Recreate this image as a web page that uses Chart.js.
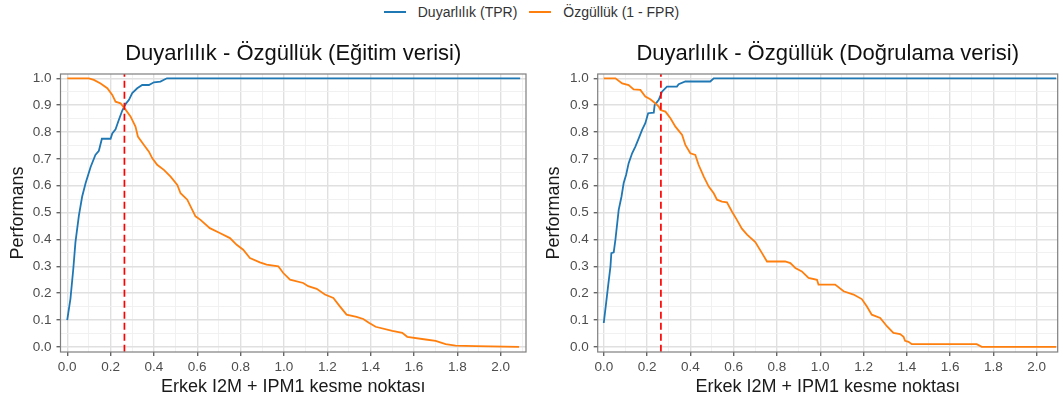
<!DOCTYPE html>
<html>
<head>
<meta charset="utf-8">
<script src="https://cdn.jsdelivr.net/npm/chart.js@4.4.1/dist/chart.umd.min.js"></script>
<style>
body{margin:0;background:#fff;width:1063px;height:405px;overflow:hidden;position:relative;font-family:"Liberation Sans",Arial,sans-serif}
#c1{position:absolute;left:0;top:0}
#c2{position:absolute;left:531px;top:0}
#legend{position:absolute;top:3px;left:0;width:1063px;height:18px;display:flex;justify-content:center;align-items:center;font-size:14px;color:#333}
#legend .ln{display:inline-block;width:22px;height:2px;margin-right:12px}
#legend .it{display:flex;align-items:center;margin:0 6px}
</style>
</head>
<body>
<div id="legend">
  <span class="it"><span class="ln" style="background:#1f77b4"></span>Duyarlılık (TPR)</span>
  <span class="it"><span class="ln" style="background:#ff7f0e"></span>Özgüllük (1 - FPR)</span>
</div>
<canvas id="c1" width="531" height="405"></canvas>
<canvas id="c2" width="532" height="405"></canvas>
<script>
// eğitim verisi
var egitimTprX = [0.0,0.015,0.028,0.038,0.054,0.069,0.085,0.108,0.13,0.146,0.16,0.2,0.208,0.223,0.238,0.254,0.27,0.285,0.3,0.323,0.346,0.377,0.4,0.43,0.46,2.09];
var egitimTprY = [0.10,0.18,0.29,0.39,0.49,0.56,0.61,0.67,0.715,0.73,0.775,0.775,0.795,0.81,0.845,0.88,0.905,0.92,0.945,0.963,0.975,0.975,0.985,0.988,1.0,1.0];
var egitimOzgX = [0.0,0.1,0.123,0.154,0.185,0.208,0.223,0.246,0.265,0.292,0.315,0.326,0.354,0.377,0.392,0.415,0.446,0.477,0.508,0.523,0.554,0.577,0.592,0.615,0.658,0.704,0.751,0.782,0.812,0.843,0.889,0.92,0.974,0.997,1.028,1.089,1.112,1.151,1.189,1.228,1.258,1.289,1.335,1.366,1.392,1.423,1.5,1.546,1.569,1.654,1.7,1.746,1.792,1.885,2.085];
var egitimOzgY = [1.0,1.0,0.994,0.981,0.963,0.938,0.913,0.907,0.888,0.858,0.82,0.783,0.752,0.727,0.703,0.678,0.659,0.634,0.603,0.572,0.548,0.51,0.486,0.473,0.442,0.424,0.405,0.38,0.362,0.331,0.315,0.306,0.3,0.275,0.25,0.238,0.226,0.216,0.195,0.182,0.151,0.12,0.112,0.104,0.09,0.075,0.06,0.0525,0.0375,0.0275,0.0225,0.01,0.005,0.0025,0.0];

// doğrulama verisi
var dogTprX = [0.0,0.011,0.02,0.031,0.035,0.046,0.054,0.069,0.082,0.092,0.103,0.115,0.131,0.146,0.162,0.177,0.192,0.205,0.231,0.235,0.254,0.269,0.292,0.338,0.346,0.377,0.492,0.508,2.09];
var dogTprY = [0.089,0.164,0.226,0.30,0.349,0.352,0.40,0.51,0.56,0.61,0.64,0.684,0.721,0.746,0.777,0.808,0.833,0.87,0.872,0.90,0.92,0.95,0.969,0.969,0.978,0.988,0.988,1.0,1.0];
var dogOzgX = [0.0,0.054,0.085,0.115,0.138,0.169,0.192,0.215,0.238,0.254,0.262,0.285,0.308,0.331,0.362,0.377,0.4,0.423,0.438,0.462,0.485,0.508,0.523,0.546,0.569,0.592,0.615,0.638,0.662,0.7,0.731,0.754,0.838,0.862,0.885,0.915,0.946,0.985,0.992,1.069,1.108,1.154,1.192,1.215,1.238,1.277,1.308,1.338,1.369,1.385,1.392,1.408,1.423,1.723,1.746,2.09];
var dogOzgY = [1.0,1.0,0.981,0.975,0.959,0.957,0.932,0.922,0.907,0.895,0.882,0.876,0.851,0.82,0.789,0.752,0.721,0.715,0.678,0.634,0.597,0.572,0.548,0.541,0.538,0.504,0.473,0.44,0.418,0.39,0.349,0.318,0.318,0.312,0.294,0.281,0.257,0.25,0.232,0.232,0.207,0.195,0.178,0.151,0.12,0.108,0.077,0.052,0.048,0.0375,0.0225,0.019,0.01,0.01,0.0,0.0];

var kesme = 0.264;

var xMajor = [0,0.2,0.4,0.6,0.8,1.0,1.2,1.4,1.6,1.8,2.0];
var xLabels = ['0.0','0.2','0.4','0.6','0.8','1.0','1.2','1.4','1.6','1.8','2.0'];
var xGrid = [0,0.1,0.2,0.3,0.4,0.5,0.6,0.7,0.8,0.9,1.0,1.1,1.2,1.3,1.4,1.5,1.6,1.7,1.8,1.9,2.0,2.1];
var yMajor = [0,0.1,0.2,0.3,0.4,0.5,0.6,0.7,0.8,0.9,1.0];
var yLabels = ['0.0','0.1','0.2','0.3','0.4','0.5','0.6','0.7','0.8','0.9','1.0'];
var yGrid = [0,0.05,0.1,0.15,0.2,0.25,0.3,0.35,0.4,0.45,0.5,0.55,0.6,0.65,0.7,0.75,0.8,0.85,0.9,0.95,1.0];

var fam = '"Liberation Sans", Arial, sans-serif';
Chart.defaults.font.family = fam;

function majorIdx(v, arr){
	for(var i = 0; i < arr.length; i++){ if(Math.abs(arr[i] - v) < 1e-6) return i; }
	return -1;
}
function pts(xs, ys){
	return xs.map(function(x, i){ return {x: x, y: ys[i]}; });
}

var panelBorder = {
	id: 'panelBorder',
	afterDraw: function(chart){
		var a = chart.chartArea, c = chart.ctx;
		c.save();
		c.strokeStyle = '#7f7f7f';
		c.lineWidth = 1.2;
		c.strokeRect(a.left, a.top, a.right - a.left, a.bottom - a.top);
		c.restore();
	}
};

function drawer(id, title, tx, ty, ox, oy, xMin, xMax, pad, yW){
	var ctx = document.getElementById(id).getContext('2d');
	return new Chart(ctx, {
		type: 'line',
		data: {
			datasets: [{
				label: 'kesme',
				data: [{x: kesme, y: -0.1}, {x: kesme, y: 1.1}],
				borderColor: '#ff0000',
				borderWidth: 1.7,
				borderDash: [7, 4],
				pointRadius: 0
			},
			{
				label: 'Özgüllük (1 - FPR)',
				data: pts(ox, oy),
				borderColor: '#ff7f0e',
				borderWidth: 1.8,
				pointRadius: 0,
				tension: 0
			},
			{
				label: 'Duyarlılık (TPR)',
				data: pts(tx, ty),
				borderColor: '#1f77b4',
				borderWidth: 1.8,
				pointRadius: 0,
				tension: 0
			}]
		},
		options: {
			responsive: false,
			animation: false,
			devicePixelRatio: 1,
			events: [],
			layout: { padding: pad },
			plugins: {
				legend: { display: false },
				tooltip: { enabled: false },
				title: {
					display: true,
					text: title,
					fullSize: false,
					color: '#111',
					font: { size: 22, weight: 'normal', family: fam },
					padding: { top: 40.3, bottom: 7.3 }
				}
			},
			scales: {
				x: {
					type: 'linear',
					min: xMin,
					max: xMax,
					afterBuildTicks: function(s){
						s.ticks = xGrid.filter(function(v){ return v >= s.min && v <= s.max; }).map(function(v){ return {value: v}; });
					},
					afterFit: function(s){ s.height = 50; },
					ticks: {
						autoSkip: false,
						maxRotation: 0,
						padding: 3,
						color: '#4d4d4d',
						font: { size: 13.5 },
						callback: function(v){ var i = majorIdx(v, xMajor); return i < 0 ? '' : xLabels[i]; }
					},
					grid: {
						color: function(c){ return majorIdx(c.tick.value, xMajor) < 0 ? '#efefef' : '#e0e0e0'; },
						lineWidth: function(c){ return majorIdx(c.tick.value, xMajor) < 0 ? 0.9 : 1.4; },
						tickLength: 4,
						tickColor: function(c){ return majorIdx(c.tick.value, xMajor) < 0 ? 'rgba(0,0,0,0)' : '#666'; }
					},
					border: { display: false },
					title: {
						display: true,
						text: 'Erkek I2M + IPM1 kesme noktası',
						color: '#1a1a1a',
						font: { size: 18 },
						padding: { top: 4, bottom: 4 }
					}
				},
				y: {
					type: 'linear',
					min: -0.019,
					max: 1.016,
					afterBuildTicks: function(s){
						s.ticks = yGrid.map(function(v){ return {value: v}; });
					},
					afterFit: function(s){ s.width = yW; },
					ticks: {
						autoSkip: false,
						padding: 5,
						color: '#4d4d4d',
						font: { size: 13.5 },
						callback: function(v){ var i = majorIdx(v, yMajor); return i < 0 ? '' : yLabels[i]; }
					},
					grid: {
						color: function(c){ return majorIdx(c.tick.value, yMajor) < 0 ? '#efefef' : '#e0e0e0'; },
						lineWidth: function(c){ return majorIdx(c.tick.value, yMajor) < 0 ? 0.9 : 1.4; },
						tickLength: 4,
						tickColor: function(c){ return majorIdx(c.tick.value, yMajor) < 0 ? 'rgba(0,0,0,0)' : '#666'; }
					},
					border: { display: false },
					title: {
						display: true,
						text: 'Performans',
						color: '#1a1a1a',
						font: { size: 18 },
						padding: { top: 4, bottom: 4 }
					}
				}
			}
		},
		plugins: [panelBorder]
	});
};

drawer('c1', 'Duyarlılık - Özgüllük (Eğitim verisi)', egitimTprX, egitimTprY, egitimOzgX, egitimOzgY, -0.031, 2.117, {left: 3, right: 5, top: 0, bottom: 3}, 57.5);
drawer('c2', 'Duyarlılık - Özgüllük (Doğrulama verisi)', dogTprX, dogTprY, dogOzgX, dogOzgY, -0.028, 2.097, {left: 8, right: 5.3, top: 0, bottom: 3}, 58.7);
</script>
</body>
</html>
